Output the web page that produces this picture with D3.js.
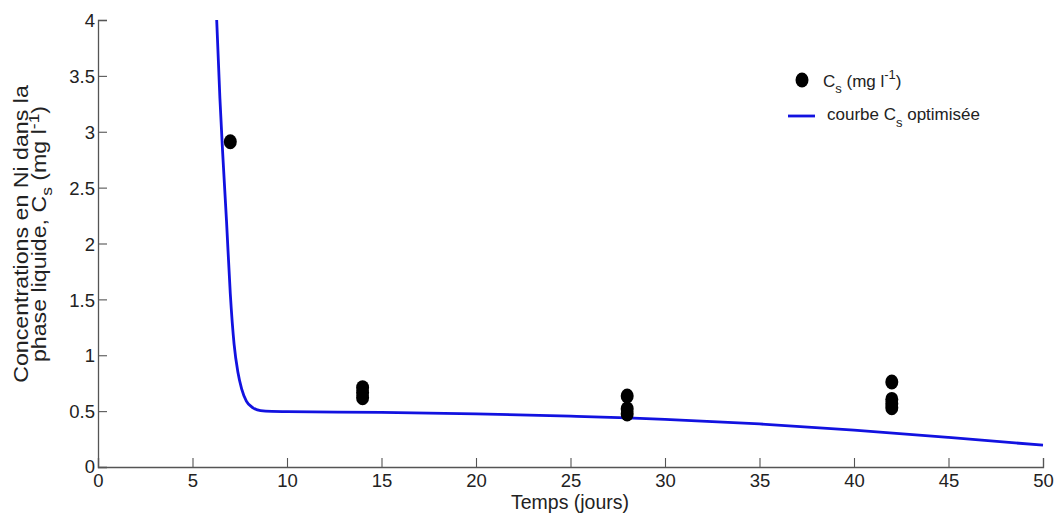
<!DOCTYPE html>
<html><head><meta charset="utf-8">
<script src="https://cdn.jsdelivr.net/npm/d3@7"></script>
<style>body{margin:0;background:#fff}svg{display:block;font-family:"Liberation Sans",Arial,sans-serif}</style>
</head><body><svg id="c" width="1054" height="515"></svg>
<script>
// Measured points C_s (mg l-1)
const obsDays = [7, 14, 14, 14, 28, 28, 28, 42, 42, 42, 42];
const obsCs   = [2.91, 0.71, 0.665, 0.62, 0.635, 0.52, 0.475, 0.76, 0.605, 0.565, 0.53];
// Optimised curve
const curveDays = [6.28, 6.45, 6.6, 6.8, 7.0, 7.2, 7.4, 7.6, 7.85, 8.2, 8.6, 9.2, 10, 15, 20, 25, 28, 30, 35, 40, 45, 50];
const curveCs   = [4.0, 3.3, 2.8, 2.2, 1.55, 1.1, 0.85, 0.7, 0.59, 0.53, 0.505, 0.497, 0.495, 0.488, 0.475, 0.455, 0.44, 0.427, 0.385, 0.33, 0.265, 0.195];
const xTicks = [0, 5, 10, 15, 20, 25, 30, 35, 40, 45, 50];
const yTicks = [0, 0.5, 1, 1.5, 2, 2.5, 3, 3.5, 4];

const svg = d3.select("#c");
const x = d3.scaleLinear().domain([0, 50]).range([98, 1043]);
const y = d3.scaleLinear().domain([0, 4]).range([467, 20]);
const axisCol = "#555";
const txtCol = "#222";

const xa = svg.append("g").attr("transform", "translate(0,467)")
  .call(d3.axisBottom(x).tickValues(xTicks).tickSize(-9).tickPadding(14).tickFormat(d3.format("~g")));
const ya = svg.append("g").attr("transform", "translate(98,0)")
  .call(d3.axisLeft(y).tickValues(yTicks).tickSize(-9).tickPadding(14).tickFormat(d3.format("~g")));
[xa, ya].forEach(g => {
  g.select(".domain").attr("stroke", axisCol).attr("stroke-width", 1.3);
  g.selectAll(".tick line").attr("stroke", axisCol).attr("stroke-width", 1.1);
  g.selectAll(".tick text").attr("fill", txtCol).style("font-size", "18.5px").style("font-family", "Liberation Sans, Arial, sans-serif");
});
ya.selectAll(".tick text").attr("x", -3).attr("dy", "0.36em");
ya.selectAll(".tick text").filter(d => d === 0).attr("dy", "0.3em");
xa.selectAll(".tick text").attr("y", 7);

// curve
const line = d3.line().x(d => x(d[0])).y(d => y(d[1])).curve(d3.curveMonotoneX);
svg.append("path").datum(curveDays.map((d, i) => [d, curveCs[i]]))
  .attr("d", line).attr("fill", "none").attr("stroke", "#1212e0").attr("stroke-width", 2.8);

// points
svg.append("g").selectAll("ellipse").data(obsDays.map((d, i) => [d, obsCs[i]])).join("ellipse")
  .attr("cx", d => x(d[0])).attr("cy", d => y(d[1])).attr("rx", 6.5).attr("ry", 7.5).attr("fill", "#000");

// axis labels
svg.append("text").attr("transform", "translate(570,509) scale(1,1.08)").attr("text-anchor", "middle")
  .attr("fill", txtCol).style("font-size", "19.5px").text("Temps (jours)");
const yl = svg.append("g").attr("transform", "translate(0,234) rotate(-90) scale(1.16,1)");
yl.append("text").attr("x", 0).attr("y", 28).attr("text-anchor", "middle")
  .attr("fill", txtCol).style("font-size", "20px").text("Concentrations en Ni dans la");
const t2 = yl.append("text").attr("x", 0).attr("y", 46).attr("text-anchor", "middle")
  .attr("fill", txtCol).style("font-size", "20px");
t2.append("tspan").text("phase liquide, C");
t2.append("tspan").attr("dy", 6).style("font-size", "15px").text("s");
t2.append("tspan").attr("dy", -6).text(" (mg l");
t2.append("tspan").attr("dy", -7).style("font-size", "15px").text("-1");
t2.append("tspan").attr("dy", 7).text(")");

// legend
const lg = svg.append("g");
lg.append("ellipse").attr("cx", 802).attr("cy", 80).attr("rx", 6.5).attr("ry", 7.5).attr("fill", "#000");
const l1 = lg.append("text").attr("x", 823).attr("y", 87).attr("fill", txtCol).style("font-size", "17px");
l1.append("tspan").text("C");
l1.append("tspan").attr("dy", 6).style("font-size", "13px").text("s");
l1.append("tspan").attr("dy", -6).text(" (mg l");
l1.append("tspan").attr("dy", -8).style("font-size", "13px").text("-1");
l1.append("tspan").attr("dy", 8).text(")");
lg.append("line").attr("x1", 788).attr("x2", 815).attr("y1", 116).attr("y2", 116).attr("stroke", "#1212e0").attr("stroke-width", 2.8);
const l2 = lg.append("text").attr("x", 827).attr("y", 120).attr("fill", txtCol).style("font-size", "17px");
l2.append("tspan").text("courbe C");
l2.append("tspan").attr("dy", 7).style("font-size", "13px").text("s");
l2.append("tspan").attr("dy", -7).text(" optimisée");
</script></body></html>
